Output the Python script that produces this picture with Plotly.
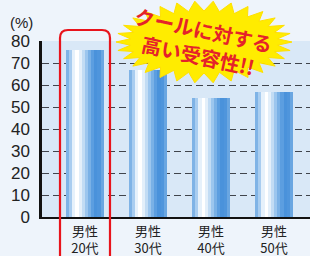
import numpy as np
import plotly.graph_objects as go

categories = ["男性<br>20代", "男性<br>30代", "男性<br>40代", "男性<br>50代"]
values = [76, 67, 54, 57]
y_ticks = [0, 10, 20, 30, 40, 50, 60, 70, 80]

W, H = 310, 256
ML, MR, MT, MB = 42, 0, 41, 39
PW, PH = W - ML - MR, H - MT - MB

def px2paper(px, py):
    return (px - ML) / PW, (H - MB - py) / PH

# cylinder-like shading via slices
slice_colors = ["#7fb3e6", "#a9cdf0", "#e6f1fb", "#ffffff", "#e3effa", "#c2dcf4",
                "#9cc6ee", "#7ab1e6", "#5c9ee0", "#4a92db", "#4f95dc", "#6aa6e1"]
n = len(slice_colors)
bw = 0.6
sw = bw / n

fig = go.Figure()
for i, c in enumerate(slice_colors):
    fig.add_trace(go.Bar(
        x=list(range(len(categories))), y=values,
        width=[sw * 1.08] * len(values), offset=-bw / 2 + i * sw,
        marker=dict(color=c, line=dict(width=0)),
        showlegend=False, hoverinfo="skip"))

# starburst decoration
cx, cy = 204, 42
spikes = 30
pts = []
for k in range(spikes * 2):
    a = np.pi * k / spikes
    if k % 2 == 0:
        rx, ry = 88, 41
    else:
        rx, ry = 74, 31
    px = cx + rx * np.cos(a)
    py = cy + ry * np.sin(a)
    pts.append(px2paper(px, py))
path = "M " + " L ".join(f"{x:.4f},{y:.4f}" for x, y in pts) + " Z"

shapes = [dict(type="path", path=path, xref="paper", yref="paper",
               fillcolor="#ffec00", line=dict(color="#ffe000", width=1), layer="above")]

# red rounded rectangle around first bar
x0, y0 = 60, 30
x1, y1 = 110, 270
r = 8
p = [px2paper(x0, y1), px2paper(x0, y0 + r), px2paper(x0, y0), px2paper(x0 + r, y0),
     px2paper(x1 - r, y0), px2paper(x1, y0), px2paper(x1, y0 + r), px2paper(x1, y1)]
rpath = (f"M {p[0][0]:.4f},{p[0][1]:.4f} L {p[1][0]:.4f},{p[1][1]:.4f} "
         f"Q {p[2][0]:.4f},{p[2][1]:.4f} {p[3][0]:.4f},{p[3][1]:.4f} "
         f"L {p[4][0]:.4f},{p[4][1]:.4f} Q {p[5][0]:.4f},{p[5][1]:.4f} {p[6][0]:.4f},{p[6][1]:.4f} "
         f"L {p[7][0]:.4f},{p[7][1]:.4f}")
shapes.append(dict(type="path", path=rpath, xref="paper", yref="paper",
                   line=dict(color="#e8141c", width=2.2), layer="above"))

tx, ty = px2paper(201, 42)
ux, uy = px2paper(21, 22)
annotations = [
    dict(text="クールに対する<br>高い受容性!!", x=tx, y=ty, xref="paper", yref="paper",
         xanchor="center", yanchor="middle",
         showarrow=False, textangle=12,
         font=dict(family="Noto Sans CJK JP", size=20, color="#e5222a", weight="bold")),
    dict(text="(%)", x=ux, y=uy, xref="paper", yref="paper", showarrow=False,
         xanchor="center", yanchor="middle",
         font=dict(family="Liberation Sans", size=15, color="#222222")),
]

fig.update_layout(
    template="none",
    width=W, height=H,
    margin=dict(l=ML, r=MR, t=MT, b=MB, autoexpand=False),
    paper_bgcolor="#eef4fb", plot_bgcolor="#d9e8f7",
    barmode="overlay", bargap=0,
    shapes=shapes, annotations=annotations,
    xaxis=dict(tickmode="array", tickvals=list(range(len(categories))), ticktext=categories,
               range=[-0.68, 3.57], showgrid=False, showline=True, linecolor="#111111",
               linewidth=2, ticks="", zeroline=False, automargin=False, ticklabelstandoff=1,
               tickfont=dict(family="Noto Sans CJK JP", size=13, color="#222222")),
    yaxis=dict(range=[0, 80], tickvals=y_ticks, showgrid=True, gridcolor="#40444c",
               gridwidth=1.4, griddash="7px,4px", showline=True, linecolor="#111111",
               linewidth=2.5, ticks="", zeroline=False, ticklabelstandoff=6, automargin=False,
               tickfont=dict(family="Liberation Sans", size=17, color="#222222")),
)

fig.write_html("out.html", config={"displayModeBar": False},
               post_script="document.body.style.margin='0';document.body.style.background='#eef4fb';")
